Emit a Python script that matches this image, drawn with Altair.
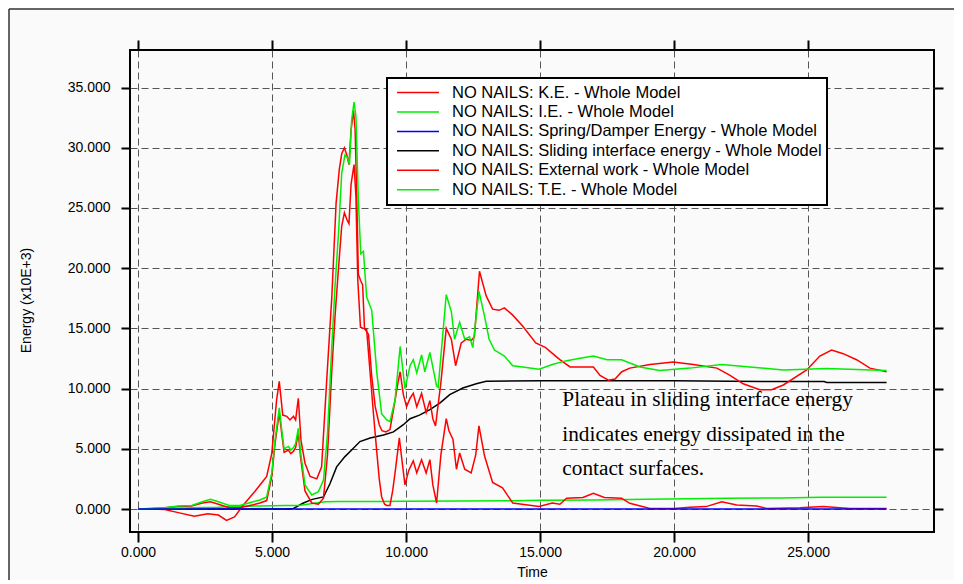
import altair as alt
import pandas as pd

# ---------------- data ----------------
names = [
    "NO NAILS: K.E. - Whole Model",
    "NO NAILS: I.E. - Whole Model",
    "NO NAILS: Spring/Damper Energy - Whole Model",
    "NO NAILS: Sliding interface energy - Whole Model",
    "NO NAILS: External work - Whole Model",
    "NO NAILS: T.E. - Whole Model",
]
colors = ["#ff0000", "#00ee00", "#0000ff", "#000000", "#ff0000", "#00ee00"]

x_ticks = [0, 5, 10, 15, 20, 25]
y_ticks = [0, 5, 10, 15, 20, 25, 30, 35]

te_t = [0.0, 0.5, 1.0, 1.5, 2.0, 2.4, 2.7, 3.0, 3.4, 3.8, 4.3, 4.55, 4.8, 4.99, 5.11,
        5.27, 5.36, 5.45, 5.61, 5.7, 5.8, 5.88, 5.98, 6.07, 6.23, 6.48, 6.73, 6.92, 7.07,
        7.23, 7.35, 7.48, 7.6, 7.72, 7.81, 7.89, 7.97, 8.06, 8.13, 8.22, 8.31, 8.41, 8.53,
        8.72, 8.91, 9.09, 9.28, 9.4, 9.59, 9.78, 9.96, 10.15, 10.27, 10.4, 10.58, 10.7,
        10.89, 11.14, 11.2, 11.5, 11.69, 11.81, 12.0, 12.19, 12.37, 12.49, 12.72, 12.93,
        13.1, 13.3, 13.67, 13.98, 14.35, 14.96, 15.46, 15.95, 16.44, 16.99, 17.5, 18.04,
        18.73, 19.47, 20.59, 21.78, 22.83, 24.08, 25.69, 27.93]
te_e = [0.0, 0.05, 0.1, 0.25, 0.3, 0.6, 0.8, 0.6, 0.3, 0.3, 0.6, 0.75, 1.0, 3.0, 5.7,
        8.4, 6.6, 5.0, 5.2, 4.9, 5.1, 5.45, 6.7, 4.6, 2.0, 1.16, 1.44, 2.4, 6.3,
        13.5, 18.5, 22.9, 27.9, 29.4, 29.2, 28.6, 32.3, 33.8, 32.6, 25.7, 21.2, 21.4, 17.6,
        16.5, 11.3, 7.9, 7.4, 7.25, 9.05, 13.5, 10.0, 11.9, 12.4, 11.3, 12.8, 11.4,
        13.0, 10.2, 10.1, 17.8, 16.4, 14.1, 15.5, 14.1, 14.3, 13.4, 18.1, 16.0,
        14.1, 13.2, 12.7, 11.9, 11.8, 11.6, 12.0, 12.3, 12.5, 12.7, 12.4, 12.4,
        11.8, 11.5, 11.7, 12.0, 11.8, 11.55, 11.66, 11.5]

ext_t = [0.0, 0.5, 1.0, 1.5, 2.1, 2.6, 3.0, 3.3, 3.6, 3.93, 4.3, 4.55, 4.8, 4.99, 5.17,
         5.27, 5.4, 5.55, 5.67, 5.8, 5.88, 5.98, 6.08, 6.23, 6.42, 6.67, 6.85, 7.04, 7.23,
         7.39, 7.51, 7.6, 7.7, 7.79, 7.87, 7.95, 8.04, 8.1, 8.16, 8.22, 8.3, 8.38, 8.45,
         8.6, 8.72, 8.85, 9.0, 9.1, 9.25, 9.4, 9.55, 9.7, 9.78, 9.9, 10.02, 10.15, 10.27,
         10.4, 10.58, 10.75, 10.89, 11.0, 11.1, 11.3, 11.5, 11.69, 11.85, 12.06, 12.25,
         12.43, 12.55, 12.74, 12.99, 13.23, 13.47, 13.67, 13.98, 14.35, 14.84, 15.21,
         15.58, 15.74, 16.12, 16.6, 16.99, 17.24, 17.55, 17.8, 18.05, 18.35, 19.1, 19.97,
         20.72, 21.6, 22.09, 22.58, 23.2, 23.64, 24.08, 24.95, 25.44, 25.88, 26.31, 26.81,
         27.31, 27.93]
ext_e = [0.0, 0.0, -0.05, -0.3, -0.6, -0.4, -0.5, -0.95, -0.65, 0.33, 1.3, 2.0, 2.7, 4.6, 9.05,
         10.6, 7.8, 7.7, 7.4, 7.7, 7.4, 9.2, 5.7, 3.8, 2.7, 2.5, 3.5, 10.7, 17.6,
         25.4, 28.2, 29.5, 30.0, 29.4, 28.6, 31.5, 33.1, 31.5, 26.0, 19.5, 19.0, 18.6, 15.0,
         14.5, 11.0, 8.5, 7.0, 6.5, 6.4, 6.6, 8.5, 10.5, 11.4, 9.5, 8.5, 9.2, 9.6,
         8.5, 9.6, 8.0, 9.0, 7.5, 6.9, 10.5, 15.0, 14.1, 11.9, 13.8, 14.1,
         14.0, 14.3, 19.75, 17.7, 16.6, 16.5, 16.7, 16.1, 15.2, 13.8, 13.4,
         12.7, 12.4, 11.8, 11.8, 11.8, 11.1, 10.7, 10.8, 11.4, 11.7, 12.0, 12.2,
         12.0, 11.7, 11.1, 10.4, 9.9, 9.9, 10.3, 11.55, 12.7, 13.2, 12.9, 12.4,
         11.7, 11.4]

ke_t = [0.0, 0.5, 1.0, 1.5, 2.0, 2.4, 2.7, 3.0, 3.4, 3.8, 4.3, 4.55, 4.8, 4.99, 5.11,
        5.27, 5.36, 5.45, 5.61, 5.7, 5.8, 5.88, 5.98, 6.07, 6.23, 6.48, 6.73, 6.92, 7.07,
        7.23, 7.35, 7.48, 7.6, 7.7, 7.8, 7.87, 7.95, 8.06, 8.13, 8.2, 8.3, 8.41, 8.53,
        8.66, 8.8, 8.91, 9.0, 9.09, 9.2, 9.28, 9.4, 9.5, 9.59, 9.75, 9.85, 9.96, 10.1,
        10.27, 10.4, 10.58, 10.75, 10.89, 11.0, 11.14, 11.3, 11.5, 11.6, 11.75, 11.88,
        12.0, 12.19, 12.43, 12.6, 12.72, 12.93, 13.23, 13.6, 13.98, 14.47, 14.96, 15.46,
        15.74, 15.99, 16.6, 16.99, 17.4, 18.04, 18.35, 19.1, 20.0, 20.6, 21.2, 21.78,
        22.34, 23.08, 23.45, 24.7, 25.57, 26.56, 27.93]
ke_e = [0.0, 0.05, 0.1, 0.2, 0.25, 0.5, 0.6, 0.4, 0.1, 0.1, 0.35, 0.5, 0.7, 2.7, 5.4,
        8.0, 6.3, 4.7, 4.9, 4.6, 4.8, 5.1, 6.3, 4.2, 1.5, 0.5, 0.4, 0.9, 4.5,
        11.5, 16.0, 20.0, 23.5, 24.6, 24.0, 23.7, 27.0, 28.6, 26.0, 19.0, 15.1, 15.0, 14.9,
        11.3, 7.5, 4.7, 2.5, 1.0, 0.4, 0.3, 0.3, 1.5, 3.0, 5.9, 4.0, 2.0, 3.2,
        4.0, 3.0, 4.1, 3.0, 4.1, 2.0, 0.5, 4.5, 7.5, 6.5, 5.8, 3.3,
        4.65, 3.3, 3.0, 4.5, 6.9, 4.4, 2.2, 1.75, 0.5, 0.36, 0.2, 0.5,
        0.4, 0.9, 0.95, 1.3, 0.95, 0.9, 0.47, 0.05, 0.05, 0.15, 0.2, 0.6,
        0.33, 0.25, 0.05, 0.1, 0.2, 0.05, 0.05]

sl_t = [0.0, 5.5, 5.8, 6.17, 6.5, 6.92, 7.16, 7.41, 7.72, 7.97, 8.28, 8.66, 9.16, 9.53,
        9.9, 10.15, 10.5, 10.89, 11.26, 11.63, 12.12, 12.62, 12.99, 15.0, 20.0, 22.1,
        25.6, 25.7, 27.93]
sl_e = [0.0, 0.0, 0.05, 0.5, 0.8, 1.0, 2.1, 3.5, 4.35, 4.9, 5.6, 5.9, 6.15, 6.4,
        7.0, 7.5, 7.8, 8.25, 8.8, 9.5, 10.05, 10.4, 10.6, 10.66, 10.66, 10.6,
        10.58, 10.5, 10.5]

ie_t = [0.0, 1.0, 2.0, 3.0, 3.5, 4.5, 5.5, 6.0, 6.5, 7.0, 7.5, 9.0, 10.0, 12.0, 14.0,
        15.0, 17.0, 19.0, 20.5, 22.0, 24.0, 25.5, 27.93]
ie_e = [0.0, 0.02, 0.1, 0.15, 0.2, 0.25, 0.3, 0.3, 0.45, 0.6, 0.62, 0.62, 0.64, 0.66, 0.68,
        0.72, 0.75, 0.8, 0.85, 0.89, 0.92, 0.97, 0.97]

sp_t = [0.0, 10.0, 20.0, 27.93]
sp_e = [0.0, 0.0, 0.0, 0.0]

note_text = "Plateau in sliding interface energy\nindicates energy dissipated in the\ncontact surfaces."
note_t = [15.83]
note_e = [9.96]

# ---------------- build table ----------------
series_data = [
    (names[3], sl_t, sl_e),
    (names[1], ie_t, ie_e),
    (names[4], ext_t, ext_e),
    (names[0], ke_t, ke_e),
    (names[5], te_t, te_e),
    (names[2], sp_t, sp_e),
]
rows = []
for name, ts, es in series_data:
    for i, (t, e) in enumerate(zip(ts, es)):
        rows.append({"series": name, "t": t, "E": e, "seq": i})
df = pd.DataFrame(rows)

FONT = "Liberation Sans"
xs = alt.Scale(domain=[-0.3, 29.7], nice=False, zero=False)
ys = alt.Scale(domain=[-1.91, 38.12], nice=False, zero=False)

x_axis = alt.Axis(values=x_ticks, format=".3f", title="Time", tickSize=10, tickWidth=2,
                  tickColor="black", labelFont=FONT, labelFontSize=14, labelColor="black",
                  labelPadding=3, labelFlush=False, titleFont=FONT, titleFontSize=14,
                  titleFontWeight="normal", titleColor="black", titlePadding=6,
                  grid=True, gridDash=[7, 4], gridColor="#555555", gridWidth=1, domain=False)
y_axis = alt.Axis(values=y_ticks, format=".3f", title="Energy (x10E+3)", tickSize=9,
                  tickWidth=2, tickColor="black", labelFont=FONT, labelFontSize=14,
                  labelColor="black", labelPadding=11, labelFlush=False, titleFont=FONT,
                  titleFontSize=14, titleFontWeight="normal", titleColor="black",
                  titlePadding=34, titleY=250, grid=True, gridDash=[7, 4],
                  gridColor="#555555", gridWidth=1, domain=False)
top_axis = alt.Axis(orient="top", values=x_ticks, labels=False, title=None, grid=False,
                    domain=False, tickSize=10, tickWidth=2, tickColor="black")
right_axis = alt.Axis(orient="right", values=y_ticks, labels=False, title=None, grid=False,
                      domain=False, tickSize=9, tickWidth=2, tickColor="black")

legend = alt.Legend(orient="none", legendX=257, legendY=28, title=None,
                    symbolType="stroke", symbolSize=1764, symbolStrokeWidth=1.5,
                    clipHeight=19, rowPadding=0.45, padding=5, symbolOffset=4,
                    labelOffset=12, labelFont=FONT, labelFontSize=16.5,
                    labelColor="black", labelLimit=0, strokeColor="black",
                    fillColor="white")

lines = alt.Chart(df).mark_line(strokeWidth=1.5, clip=True).encode(
    x=alt.X("t:Q", scale=xs, axis=x_axis),
    y=alt.Y("E:Q", scale=ys, axis=y_axis),
    color=alt.Color("series:N", scale=alt.Scale(domain=names, range=colors), legend=legend),
    order=alt.Order("seq:Q"),
)

tick_layer = alt.Chart(pd.DataFrame({"t": sp_t, "E": sp_e})).mark_line(opacity=0).encode(
    x=alt.X("t:Q", scale=xs, axis=top_axis),
    y=alt.Y("E:Q", scale=ys, axis=right_axis),
)

note = alt.Chart(pd.DataFrame({"t": note_t, "E": note_e, "label": [note_text]})).mark_text(
    align="left", baseline="top", font="Liberation Serif", fontSize=21.3, lineHeight=34.7,
    color="black", lineBreak="\n",
).encode(
    x=alt.X("t:Q", scale=xs, axis=None),
    y=alt.Y("E:Q", scale=ys, axis=None),
    text="label:N",
)

one = pd.DataFrame({"k": [0]})
border_top = alt.Chart(one).mark_rule(color="#333333", strokeWidth=1.5).encode(
    x=alt.value(-121), x2=alt.value(900), y=alt.value(-41))
border_left = alt.Chart(one).mark_rule(color="#333333", strokeWidth=1.5).encode(
    x=alt.value(-121), y=alt.value(-41), y2=alt.value(600))

chart = alt.layer(lines, tick_layer, note, border_top, border_left).resolve_axis(
    x="independent", y="independent"
).properties(
    width=804, height=482,
    padding={"left": 122, "top": 42, "right": 20, "bottom": 48},
    autosize=alt.AutoSizeParams(type="none"),
    background="#fafafa",
).configure_view(
    stroke="black", strokeWidth=2
).configure_legend(
    strokeWidth=2
)

chart.save("out.html", embed_options={"renderer": "svg", "actions": False})
